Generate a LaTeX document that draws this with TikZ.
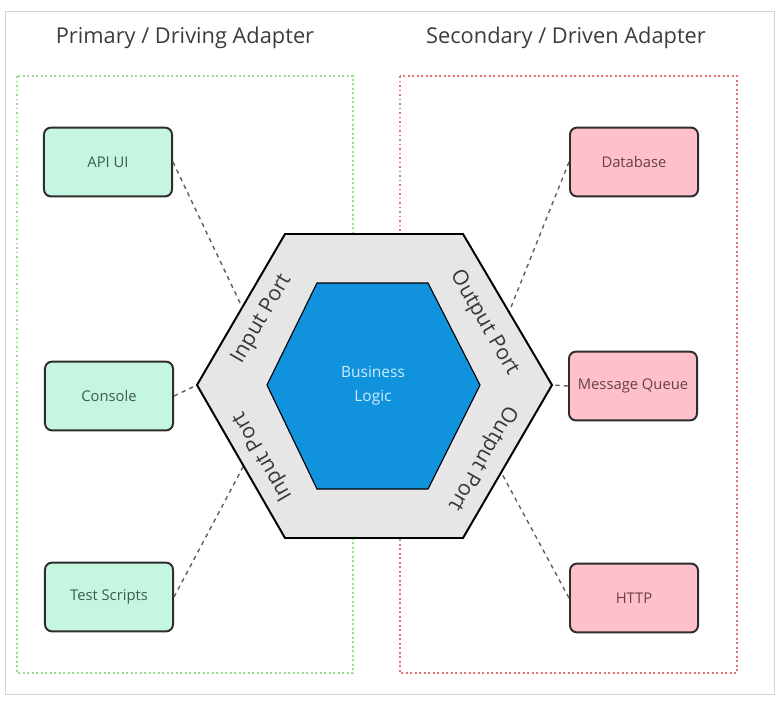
\documentclass[tikz,border=0pt]{standalone}
\usepackage{fontspec}
\setmainfont{Open Sans}
\usetikzlibrary{arrows}
\usetikzlibrary{positioning}

\definecolor{mint}{RGB}{196,246,224}
\definecolor{mintText}{RGB}{62,92,78}
\definecolor{pinkish}{RGB}{255,192,202}
\definecolor{pinkText}{RGB}{104,64,70}
\definecolor{boxline}{RGB}{45,45,45}
\definecolor{ringgray}{RGB}{230,230,230}
\definecolor{coreblue}{RGB}{16,146,220}
\definecolor{coreText}{RGB}{205,236,255}
\definecolor{portText}{RGB}{55,55,55}
\definecolor{titleText}{RGB}{60,60,60}
\definecolor{linkgray}{RGB}{95,95,95}
\definecolor{greenframe}{RGB}{150,222,140}
\definecolor{redframe}{RGB}{226,112,118}
\definecolor{framegray}{RGB}{212,212,212}

\begin{document}
\begin{tikzpicture}[x = 0.025cm, y = -0.025cm]
    \tikzset{
        adapter/.style={draw=boxline, line width=1.4pt, rounded corners=5pt,
            minimum width=3.2cm, minimum height=1.72cm,
            font=\fontsize{10.5}{12}\selectfont},
        driving/.style={adapter, fill=mint, text=mintText},
        driven/.style={adapter, fill=pinkish, text=pinkText},
        link/.style={dashed, line width=1pt, linkgray},
        port/.style={font=\fontsize{15}{18}\selectfont, text=portText},
        heading/.style={font=\fontsize{15.5}{18}\selectfont, text=titleText},
        zone/.style={dotted, line width=1.2pt}
    }
    \useasboundingbox (0,0) rectangle (783,700);
    \draw [framegray, line width=0.6pt] (5,11) rectangle (774,694);

    \node [heading] (primaryTitle) at (185,38) {Primary / Driving Adapter};
    \node [heading] (secondaryTitle) at (566,38) {Secondary / Driven Adapter};

    \draw [zone, greenframe] (17,76) rectangle (353,673);
    \draw [zone, redframe] (400,76) rectangle (737,673);

    % adapters
    \node [driving] (apiUI) at (108,162) {API UI};
    \node [driving] (console) at (109,396) {Console};
    \node [driving] (testScripts) at (109,597) {Test Scripts};
    \node [driven] (database) at (634,162) {Database};
    \node [driven] (messageQueue) at (633,386) {Message Queue};
    \node [driven] (http) at (634,598) {HTTP};

    % points on the hexagon
    \coordinate (inTop) at (242,307);
    \coordinate (inMid) at (197,385);
    \coordinate (inBot) at (244,465);
    \coordinate (outTop) at (509,312);
    \coordinate (outMid) at (552,385);
    \coordinate (outBot) at (501,472);

    \draw [link] (apiUI.east) -- (inTop);
    \draw [link] (console.east) -- (inMid);
    \draw [link] (testScripts.east) -- (inBot);
    \draw [link] (database.west) -- (outTop);
    \draw [link] (messageQueue.west) -- (outMid);
    \draw [link] (http.west) -- (outBot);

    \draw [fill=ringgray, draw=black, line width=1.4pt, line join=miter]
        (inMid) -- (285,234) -- (463,234) -- (outMid) -- (463,538) -- (285,538) -- cycle;
    \draw [fill=coreblue, draw=black, line width=0.8pt]
        (267,385) -- (317,283) -- (428,283) -- (480,385) -- (428,489) -- (317,489) -- cycle;

    \node [text=coreText, align=center, font=\fontsize{11}{17}\selectfont] (logic) at (373,386) {Business\\Logic};

    \node [port, rotate=60] (inPortTop) at (262,319) {Input Port};
    \node [port, rotate=120] (inPortBot) at (263,456) {Input Port};
    \node [port, rotate=-60] (outPortTop) at (484,323) {Output Port};
    \node [port, rotate=-120] (outPortBot) at (482,458) {Output Port};

\end{tikzpicture}
\end{document}
